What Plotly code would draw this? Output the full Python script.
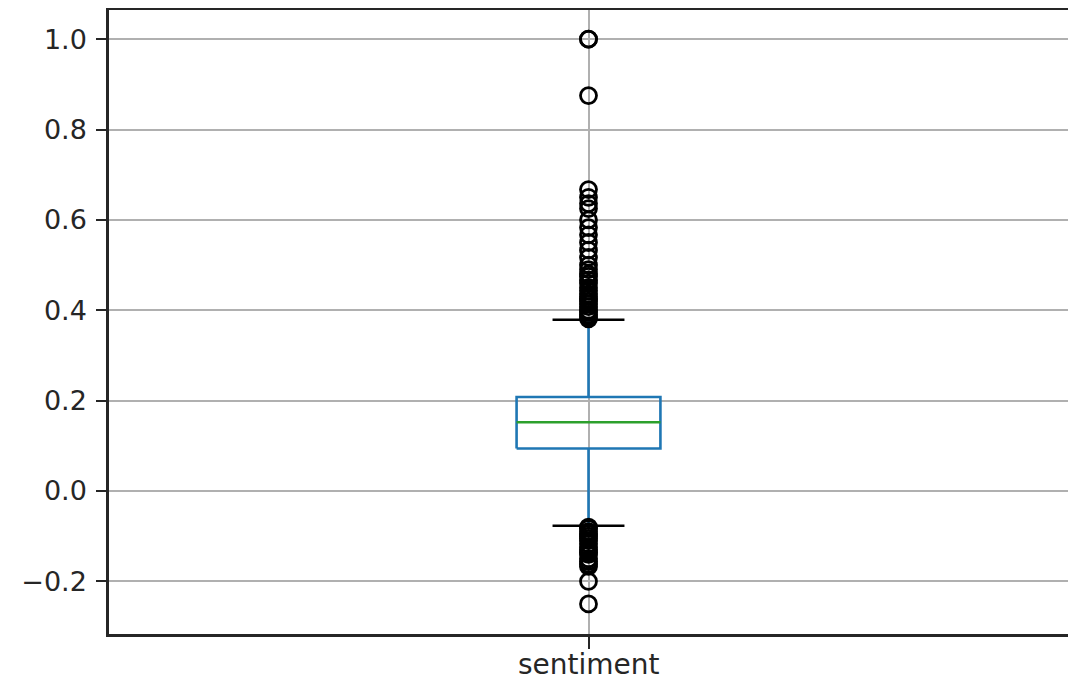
import plotly.graph_objects as go

# ---- data ----
category = "sentiment"
q1 = 0.094
median = 0.152
q3 = 0.208
lower_whisker = -0.077
upper_whisker = 0.379
outliers_high = [1.0, 1.0, 0.875, 0.667, 0.65, 0.636, 0.625, 0.6, 0.583, 0.567,
                 0.55, 0.533, 0.517, 0.5, 0.49, 0.48, 0.475, 0.467, 0.46, 0.45,
                 0.443, 0.436, 0.43, 0.425, 0.42, 0.414, 0.408, 0.4, 0.396, 0.39,
                 0.385, 0.381]
outliers_low = [-0.08, -0.083, -0.09, -0.095, -0.1, -0.105, -0.11, -0.117, -0.125,
                -0.13, -0.136, -0.14, -0.15, -0.156, -0.162, -0.167, -0.2, -0.25]
y_ticks = [-0.2, 0.0, 0.2, 0.4, 0.6, 0.8, 1.0]
y_tick_text = ["\u22120.2", "0.0", "0.2", "0.4", "0.6", "0.8", "1.0"]

# ---- style ----
pos = 1.0
box_half = 0.075
cap_half = 0.0375
blue = "#1f77b4"
green = "#2ca02c"
dark = "#262626"
grid = "#b0b0b0"
lw = 2.6

fig = go.Figure()

# box
fig.add_trace(go.Scatter(
    x=[pos - box_half, pos + box_half, pos + box_half, pos - box_half, pos - box_half],
    y=[q1, q1, q3, q3, q1], mode="lines", line=dict(color=blue, width=lw),
    hoverinfo="skip", showlegend=False))
# whiskers
fig.add_trace(go.Scatter(x=[pos, pos], y=[q3, upper_whisker], mode="lines",
                         line=dict(color=blue, width=lw), showlegend=False, hoverinfo="skip"))
fig.add_trace(go.Scatter(x=[pos, pos], y=[q1, lower_whisker], mode="lines",
                         line=dict(color=blue, width=lw), showlegend=False, hoverinfo="skip"))
# caps
fig.add_trace(go.Scatter(x=[pos - cap_half, pos + cap_half], y=[upper_whisker, upper_whisker],
                         mode="lines", line=dict(color="black", width=lw), showlegend=False, hoverinfo="skip"))
fig.add_trace(go.Scatter(x=[pos - cap_half, pos + cap_half], y=[lower_whisker, lower_whisker],
                         mode="lines", line=dict(color="black", width=lw), showlegend=False, hoverinfo="skip"))
# median
fig.add_trace(go.Scatter(x=[pos - box_half, pos + box_half], y=[median, median], mode="lines",
                         line=dict(color=green, width=lw), showlegend=False, hoverinfo="skip"))
# outliers
all_out = outliers_high + outliers_low
fig.add_trace(go.Scatter(x=[pos] * len(all_out), y=all_out, mode="markers",
                         marker=dict(symbol="circle-open", size=16, color="black",
                                     line=dict(width=2.8, color="black")),
                         showlegend=False))

# category label as a real text annotation under the tick
fig.add_annotation(x=pos, xref="x", y=0, yref="paper", yanchor="top",
                   text=category, showarrow=False, yshift=-12,
                   font=dict(family="DejaVu Sans", size=28, color=dark))

# page body has an 8px margin, so the figure is sized to fit the remaining window
fig.update_layout(
    width=1068, height=672,
    margin=dict(l=101, r=8, t=2, b=46, autoexpand=False),
    paper_bgcolor="white", plot_bgcolor="white",
    font=dict(family="DejaVu Sans", size=28, color=dark),
)
fig.update_xaxes(range=[0.5, 1.5], tickvals=[pos], ticktext=[category],
                 showticklabels=False, automargin=False,
                 showgrid=True, gridcolor=grid, gridwidth=2,
                 showline=True, linecolor=dark, linewidth=2.5, mirror=True,
                 ticks="outside", ticklen=12, tickwidth=2, tickcolor=dark,
                 zeroline=False)
fig.update_yaxes(range=[-0.3165, 1.0645], tickvals=y_ticks, ticktext=y_tick_text,
                 automargin=False, ticklabelstandoff=4, tickfont=dict(size=27),
                 showgrid=True, gridcolor=grid, gridwidth=2,
                 showline=True, linecolor=dark, linewidth=2.5, mirror=True,
                 ticks="outside", ticklen=10, tickwidth=2, tickcolor=dark,
                 zeroline=False)

fig.write_html("out.html")
